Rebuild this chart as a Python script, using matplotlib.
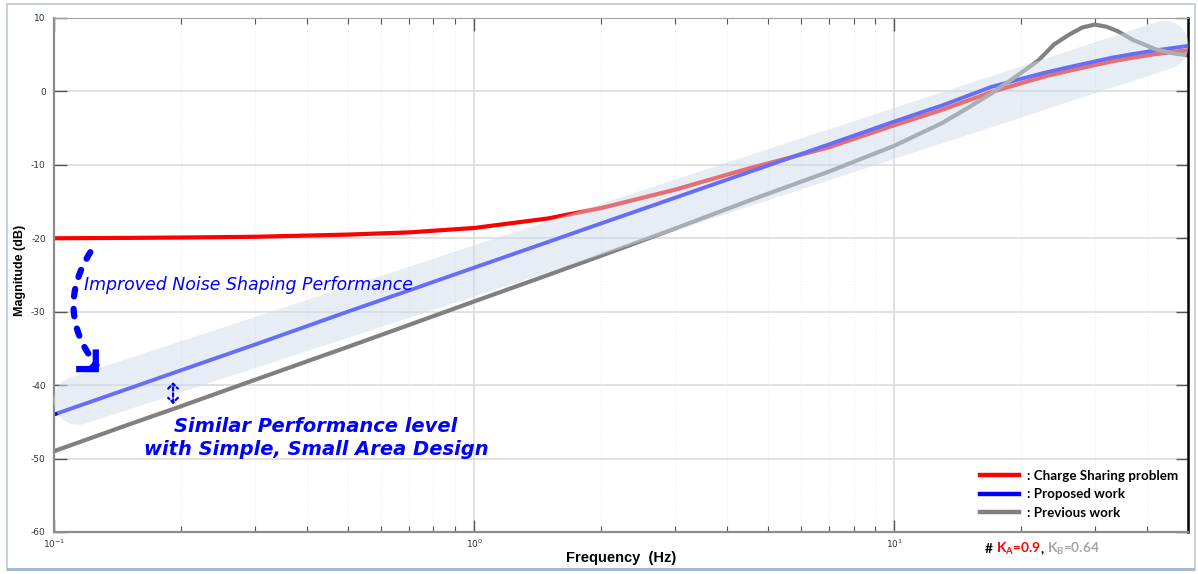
import matplotlib.pyplot as plt
import matplotlib.ticker as mticker
from matplotlib.patches import Rectangle
from matplotlib.lines import Line2D

plt.rcParams['font.family'] = ['DejaVu Sans']
plt.rcParams['mathtext.default'] = 'regular'
plt.rcParams['axes.unicode_minus'] = False

# ── magnitude response readings ───────────────────────────────
freq = [0.1, 0.15, 0.2, 0.3, 0.5, 0.7, 1.0, 1.5, 2.0, 3.0, 4.5, 7.0,
        10, 13, 17, 20, 23, 26, 29, 33, 37, 42, 50]
charge_sharing = [-20.0, -19.95, -19.9, -19.8, -19.5, -19.2, -18.6, -17.3,
                  -15.9, -13.4, -10.5, -7.6, -4.6, -2.5, -0.1, 1.1, 2.1,
                  2.8, 3.4, 4.1, 4.6, 5.1, 5.6]
proposed = [-44.0, -40.5, -38.0, -34.5, -30.0, -27.1, -24.0, -20.5, -18.0,
            -14.5, -11.0, -7.2, -4.1, -1.9, 0.6, 1.7, 2.6, 3.3, 3.9, 4.6,
            5.1, 5.6, 6.2]

prev_freq = [0.1, 0.15, 0.2, 0.3, 0.5, 0.7, 1.0, 1.5, 2.0, 3.0, 4.5, 7.0,
             10, 13, 15, 17, 20, 22, 24, 26, 28, 30, 32, 34, 37, 42, 46, 50]
previous = [-49.0, -45.4, -42.9, -39.3, -34.8, -31.8, -28.6, -25.0, -22.4,
            -18.7, -14.9, -10.9, -7.4, -4.3, -2.2, -0.3, 2.5, 4.2, 6.4, 7.7,
            8.7, 9.1, 8.8, 8.2, 7.0, 5.7, 5.2, 4.9]

series_labels = [': Charge Sharing problem', ': Proposed work', ': Previous work']

# highlight band (start / end of the shaded stroke)
band_f = [0.114, 43.9]
band_db = [-42.1, 6.3]

RED = '#FF0000'
BLUE = '#0000FF'
GRAY = '#808080'

fig = plt.figure(figsize=(11.98, 5.74), dpi=100)
ax = fig.add_axes([0.0451, 0.0732, 0.9466, 0.8955])

ax.plot(freq, charge_sharing, color=RED, lw=3.0, zorder=2,
        solid_capstyle='butt')
ax.plot(freq, proposed, color=BLUE, lw=2.8, zorder=2, solid_capstyle='butt')
ax.plot(prev_freq, previous, color=GRAY, lw=3.0, zorder=2,
        solid_capstyle='butt', solid_joinstyle='round')

# translucent band laid over the curves
ax.plot(band_f, band_db, color='#D1DCEB', alpha=0.5, lw=35,
        solid_capstyle='round', zorder=3, clip_on=False)

ax.set_xscale('log')
ax.set_xlim(0.1, 50)
ax.set_ylim(-60, 10)
ax.set_yticks(range(-60, 11, 10))
ax.xaxis.set_minor_locator(mticker.LogLocator(base=10, subs=range(2, 10)))
ax.xaxis.set_minor_formatter(mticker.NullFormatter())

ax.grid(True, which='major', axis='both', color='#DEDEDE', lw=1.3, zorder=0)
ax.grid(True, which='minor', axis='x', color='#EBEBEB', lw=0.8,
        linestyle=':', zorder=0)

ax.tick_params(which='both', direction='in', top=True, right=True,
               labelsize=6.5, labelcolor='#333333', color='#555555')
ax.tick_params(which='major', length=9, width=1.0)
ax.tick_params(which='minor', length=4, width=0.8)
ax.tick_params(axis='y', pad=6)
ax.tick_params(axis='x', pad=4)

for side in ['left', 'bottom']:
    ax.spines[side].set_color('#8C8C8C')
    ax.spines[side].set_linewidth(1.6)
ax.spines['top'].set_color('#A0A0A0')
ax.spines['top'].set_linewidth(0.8)
ax.spines['right'].set_color('#000000')
ax.spines['right'].set_linewidth(1.8)

ax.set_xlabel('Frequency  (Hz)', fontsize=10.5, fontweight='bold',
              family=['Liberation Sans'], labelpad=1)
ax.set_ylabel('Magnitude (dB)', fontsize=9, fontweight='bold',
              family=['Liberation Sans Narrow', 'Liberation Sans'])
ax.yaxis.set_label_coords(-0.0245, 0.508)

# ── annotations ───────────────────────────────────────────────
ax.text(0.118, -26.3, 'Improved Noise Shaping Performance', color=BLUE,
        fontsize=12.5, style='italic', va='center', ha='left', zorder=5)
ax.text(0.42, -47.2, 'Similar Performance level\nwith Simple, Small Area Design',
        color=BLUE, fontsize=14, style='italic', fontweight='bold',
        va='center', ha='center', linespacing=1.3, zorder=5)

# curved dashed arrow down to the proposed curve
ax.annotate('', xy=(0.1262, -37.3), xytext=(0.122, -21.9),
            arrowprops=dict(arrowstyle='-', color=BLUE, lw=4.5,
                            linestyle=(0, (1.2, 2.0)), capstyle='round',
                            connectionstyle='arc3,rad=0.35',
                            shrinkA=0, shrinkB=0), zorder=5)
ax.annotate('', xy=(0.1279, -38.24), xytext=(0.1224, -37.15),
            arrowprops=dict(arrowstyle='->,head_length=0.5,head_width=0.5',
                            color=BLUE, lw=4.5, mutation_scale=20,
                            joinstyle='miter', capstyle='butt',
                            shrinkA=0, shrinkB=0), zorder=5)

# small gap marker between proposed and previous work
ax.annotate('', xy=(0.192, -39.6), xytext=(0.192, -42.6),
            arrowprops=dict(arrowstyle='<->,head_length=0.35,head_width=0.35',
                            color=BLUE, lw=1.6, linestyle=(0, (1.5, 1.2)),
                            mutation_scale=10, shrinkA=0, shrinkB=0), zorder=5)

# legend
leg = ax.legend([Line2D([], [], color=c, lw=3.2) for c in (RED, BLUE, GRAY)],
                series_labels, loc='upper left',
                bbox_to_anchor=(0.8165, 0.121), frameon=False,
                prop={'family': 'Lato', 'weight': 'bold', 'size': 9.6},
                handlelength=2.9, handletextpad=0.6, labelspacing=0.48,
                borderpad=0, borderaxespad=0)
leg.set_zorder(6)

# constants note under the plot
renderer = fig.canvas.get_renderer()
note = [('# ', 'black'), ('K$_A$=0.9', RED), (', ', 'black'),
        ('K$_B$=0.64', '#A6A6A6')]
x = 985 / 1198
y = 1 - 553 / 574
for s, c in note:
    t = fig.text(x, y, s, color=c, fontsize=9.8, fontweight='bold',
                 family=['Lato'], va='baseline', ha='left')
    bb = t.get_window_extent(renderer)
    x = fig.transFigure.inverted().transform((bb.x1, bb.y0))[0]

# window frame
fig.patches.append(Rectangle((7 / 1198, 4 / 574), 1188 / 1198, 566 / 574,
                             transform=fig.transFigure, fill=False,
                             edgecolor='#BCC8DA', lw=1.2))
fig.patches.append(Rectangle((7 / 1198, 3 / 574), 1188 / 1198, 3 / 574,
                             transform=fig.transFigure, facecolor='#A9B8CF',
                             edgecolor='none'))

fig.savefig('out.png', dpi=100)
